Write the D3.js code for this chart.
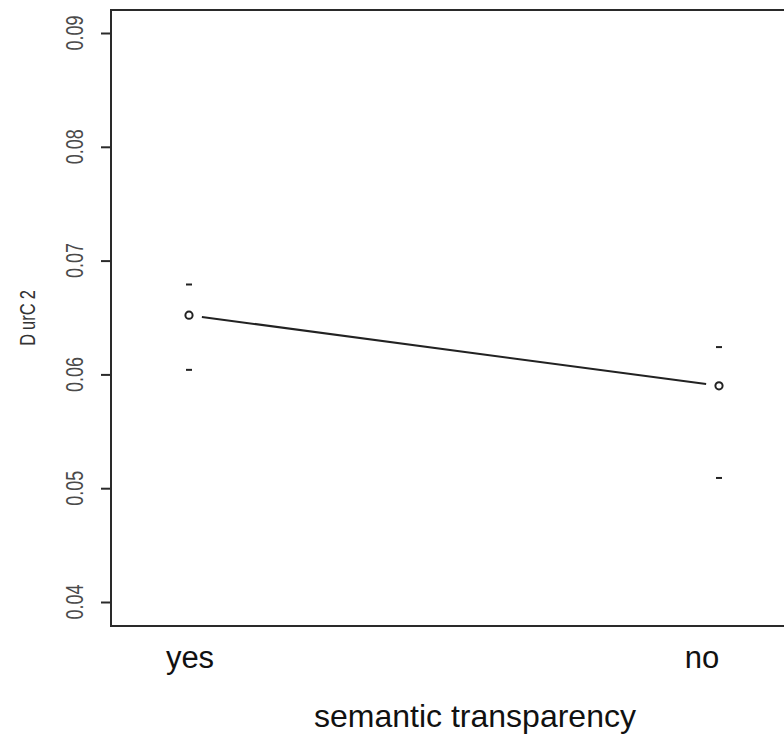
<!DOCTYPE html>
<html>
<head>
<meta charset="utf-8">
<script src="https://cdn.jsdelivr.net/npm/d3@7"></script>
<style>
  html, body { margin: 0; padding: 0; background: #fff; }
  svg { display: block; }
  text { font-family: "Liberation Sans", Arial, sans-serif; }
</style>
</head>
<body>
<svg id="chart" width="784" height="738"></svg>
<script>
// Effect of semantic transparency on DurC2: fitted values with confidence limits
const categories = ["yes", "no"];
const fitted = [0.0652, 0.0590];
const lower = [0.0604, 0.0509];
const upper = [0.0679, 0.0624];
const yTicks = [0.04, 0.05, 0.06, 0.07, 0.08, 0.09];
const yTickLabels = ["0.04", "0.05", "0.06", "0.07", "0.08", "0.09"];
const xTitle = "semantic transparency";
const yTitleParts = ["D", "urC", "2"];

const svg = d3.select("#chart");

// plot frame
const frame = { left: 111, top: 10, right: 840, bottom: 626 };

const y = d3.scaleLinear().domain([0.04, 0.09]).range([602, 33]);
const x = d3.scaleLinear().domain([0, categories.length - 1]).range([189, 719]);
const xLab = d3.scaleLinear().domain([0, categories.length - 1]).range([190, 702]);

// box (open on the right where the device cuts it)
svg.append("path")
  .attr("d", `M${frame.right},${frame.top} H${frame.left} V${frame.bottom} H${frame.right}`)
  .attr("fill", "none")
  .attr("stroke", "#2a2a2a")
  .attr("stroke-width", 2);

// y axis ticks
const yAxis = d3.axisLeft(y).tickValues(yTicks).tickSize(10).tickFormat("");
const gy = svg.append("g").attr("transform", `translate(${frame.left},0)`).call(yAxis);
gy.select(".domain").remove();
gy.selectAll(".tick line").attr("stroke", "#2a2a2a").attr("stroke-width", 2);

// rotated tick labels
svg.append("g").selectAll("text")
  .data(yTicks)
  .join("text")
  .attr("transform", d => `translate(83,${y(d)}) rotate(-90) scale(1,1.3)`)
  .attr("text-anchor", "middle")
  .attr("font-size", 18)
  .attr("fill", "#4a4a4a")
  .text((d, i) => yTickLabels[i]);

// y title
const yt = svg.append("text")
  .attr("transform", `translate(35,${(frame.top + frame.bottom) / 2}) rotate(-90) scale(1,1.3)`)
  .attr("text-anchor", "middle")
  .attr("font-size", 16.5)
  .attr("fill", "#333");
yTitleParts.forEach((p, i) => yt.append("tspan").attr("dx", i ? 4 : 0).text(p));

// confidence limit marks
const ciG = svg.append("g").attr("stroke", "#222").attr("stroke-width", 2);
categories.forEach((c, i) => {
  [lower[i], upper[i]].forEach(v => {
    ciG.append("line")
      .attr("x1", x(i) - 3).attr("x2", x(i) + 3)
      .attr("y1", y(v)).attr("y2", y(v));
  });
});

// connecting line with gaps around the points
const gap = 13;
for (let i = 0; i < categories.length - 1; i++) {
  const x0 = x(i), y0 = y(fitted[i]), x1 = x(i + 1), y1 = y(fitted[i + 1]);
  const len = Math.hypot(x1 - x0, y1 - y0);
  const ux = (x1 - x0) / len, uy = (y1 - y0) / len;
  svg.append("line")
    .attr("x1", x0 + ux * gap).attr("y1", y0 + uy * gap)
    .attr("x2", x1 - ux * gap).attr("y2", y1 - uy * gap)
    .attr("stroke", "#222").attr("stroke-width", 2);
}

// fitted points
svg.append("g").selectAll("circle")
  .data(fitted)
  .join("circle")
  .attr("cx", (d, i) => x(i))
  .attr("cy", d => y(d))
  .attr("r", 3.6)
  .attr("fill", "#fff")
  .attr("stroke", "#222")
  .attr("stroke-width", 2);

// category labels
svg.append("g").selectAll("text")
  .data(categories)
  .join("text")
  .attr("x", (d, i) => xLab(i))
  .attr("y", 668)
  .attr("text-anchor", "middle")
  .attr("font-size", 31)
  .attr("fill", "#111")
  .text(d => d);

// x title
svg.append("text")
  .attr("x", 475)
  .attr("y", 727)
  .attr("text-anchor", "middle")
  .attr("font-size", 32)
  .attr("fill", "#111")
  .text(xTitle);
</script>
</body>
</html>
